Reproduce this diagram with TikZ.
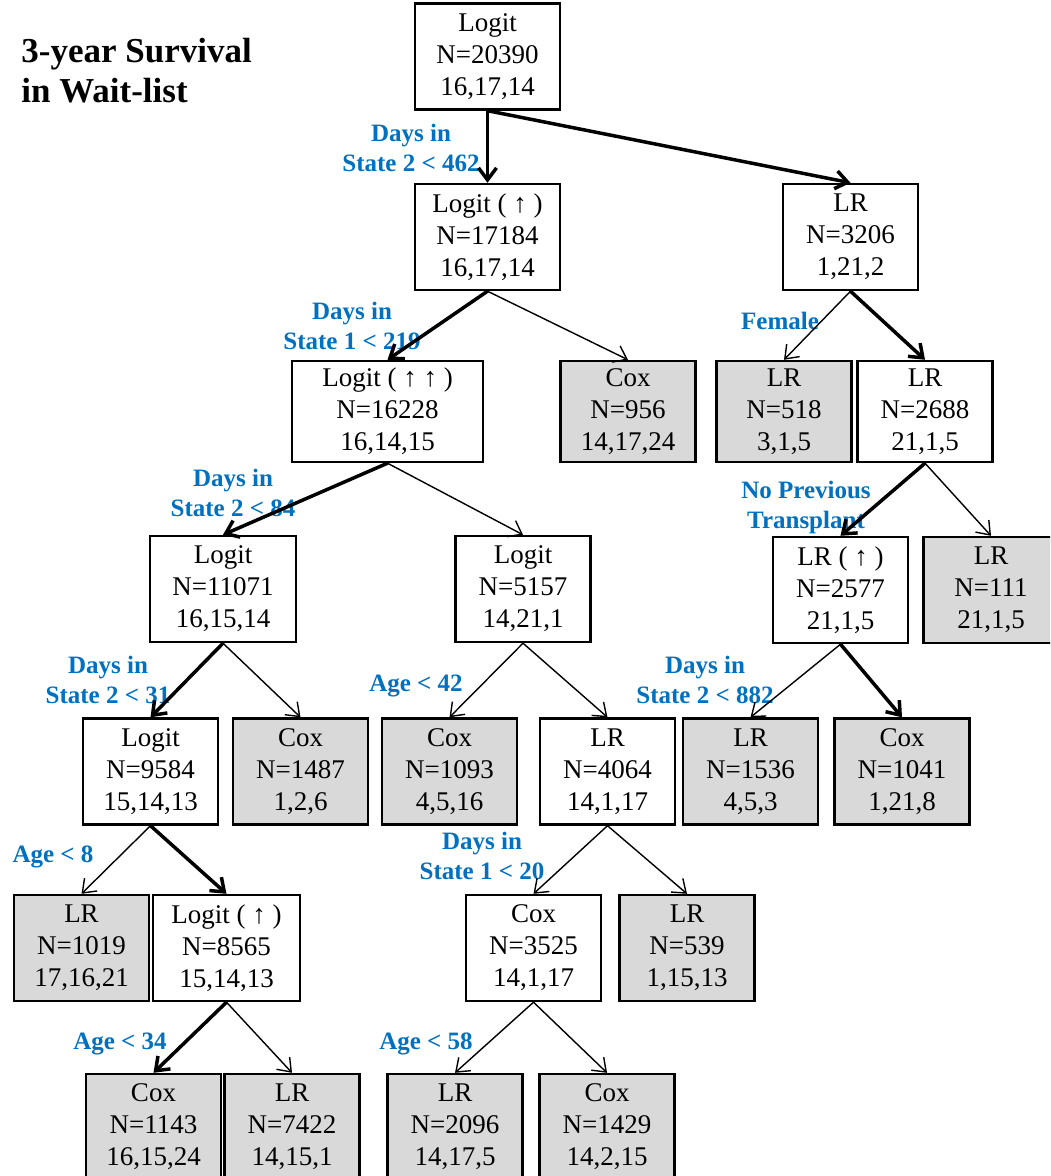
\documentclass[tikz,border=0pt]{standalone}
\usepackage{fontspec}
\setmainfont{Liberation Serif}
\usetikzlibrary{arrows.meta}
\definecolor{condblue}{RGB}{0,112,192}
\definecolor{leafgray}{RGB}{217,217,217}

\begin{document}
\begin{tikzpicture}[line cap=round,>={Straight Barb[length=6pt,width=9pt]},x=0.5pt,y=-0.5pt,
	tbox/.style={draw=black,line width=1.2pt,fill=white,align=center,inner sep=0pt,minimum width=67.5pt,minimum height=53pt,font=\fontsize{13.5}{16}\selectfont},
	leaf/.style={tbox,fill=leafgray},
	cond/.style={text=condblue,align=center,inner sep=0pt,font=\fontsize{12.5}{15}\selectfont\bfseries},
	main/.style={->,line width=1.75pt},
	side/.style={->,line width=0.7pt}]
		\useasboundingbox (0,0) rectangle (1050,1176);
		\clip (0,0) rectangle (1050,1176);
		\node[font=\fontsize{17.5}{20}\selectfont\bfseries,align=left,anchor=north west,inner sep=0pt] (title) at (21,38) {3-year Survival\\in Wait-list};
		% tree nodes
		\node[tbox,minimum width=72.5pt] (root) at (487.5,56.5) {Logit\\N=20390\\16,17,14};
		\node[tbox,minimum width=72.5pt] (n17184) at (487.5,237) {Logit ( ↑ )\\N=17184\\16,17,14};
		\node[tbox] (n3206) at (850.5,237) {LR\\N=3206\\1,21,2};
		\node[tbox,minimum width=95.5pt,minimum height=50.5pt] (n16228) at (387.5,411.5) {Logit ( ↑ ↑ )\\N=16228\\16,14,15};
		\node[leaf,minimum height=50.5pt] (n956) at (628,411.5) {Cox\\N=956\\14,17,24};
		\node[leaf,minimum height=50.5pt] (n518) at (784,411.5) {LR\\N=518\\3,1,5};
		\node[tbox,minimum height=50.5pt] (n2688) at (925,411.5) {LR\\N=2688\\21,1,5};
		\node[tbox,minimum width=73pt] (n11071) at (223,589) {Logit\\N=11071\\16,15,14};
		\node[tbox] (n5157) at (523,589) {Logit\\N=5157\\14,21,1};
		\node[tbox] (n2577) at (840.5,590) {LR ( ↑ )\\N=2577\\21,1,5};
		\node[leaf] (n111) at (991,590) {LR\\N=111\\21,1,5};
		\node[tbox] (n9584) at (150.5,771.5) {Logit\\N=9584\\15,14,13};
		\node[leaf] (n1487) at (300.5,771.5) {Cox\\N=1487\\1,2,6};
		\node[leaf] (n1093) at (449.5,771.5) {Cox\\N=1093\\4,5,16};
		\node[tbox] (n4064) at (607.5,771.5) {LR\\N=4064\\14,1,17};
		\node[leaf] (n1536) at (750.5,771.5) {LR\\N=1536\\4,5,3};
		\node[leaf] (n1041) at (902,771.5) {Cox\\N=1041\\1,21,8};
		\node[leaf] (n1019) at (81.5,948) {LR\\N=1019\\17,16,21};
		\node[tbox,minimum width=73.5pt] (n8565) at (226.5,948) {Logit ( ↑ )\\N=8565\\15,14,13};
		\node[tbox] (n3525) at (533.5,948) {Cox\\N=3525\\14,1,17};
		\node[leaf] (n539) at (687,948) {LR\\N=539\\1,15,13};
		\node[leaf] (n1143) at (153.5,1127) {Cox\\N=1143\\16,15,24};
		\node[leaf] (n7422) at (292,1127) {LR\\N=7422\\14,15,1};
		\node[leaf] (n2096) at (455,1127) {LR\\N=2096\\14,17,5};
		\node[leaf] (n1429) at (607,1127) {Cox\\N=1429\\14,2,15};
		% split conditions
		\node[cond] (c462) at (411,148) {Days in\\State 2 < 462};
		\node[cond] (c219) at (352,326) {Days in\\State 1 < 219};
		\node[cond] (c84) at (233,493) {Days in\\State 2 < 84};
		\node[cond] (cfem) at (780,321) {Female};
		\node[cond] (cprev) at (806,507) {No Previous\\Transplant};
		\node[cond] (c31) at (108,680) {Days in\\State 2 < 31};
		\node[cond] (c42) at (416,686) {Age < 42};
		\node[cond] (c882) at (705,680) {Days in\\State 2 < 882};
		\node[cond] (c8) at (53,857) {Age < 8};
		\node[cond] (c20) at (482,856) {Days in\\State 1 < 20};
		\node[cond] (c34) at (120,1044) {Age < 34};
		\node[cond] (c58) at (426,1044) {Age < 58};
		% branches
		\draw[main] (root.south) -- (n17184.north);
		\draw[main] (root.south) -- (n3206.north);
		\draw[main] (n17184.south) -- (n16228.north);
		\draw[side] (n17184.south) -- (n956.north);
		\draw[side] (n3206.south) -- (n518.north);
		\draw[main] (n3206.south) -- (n2688.north);
		\draw[main] (n16228.south) -- (n11071.north);
		\draw[side] (n16228.south) -- (n5157.north);
		\draw[main] (n2688.south) -- (n2577.north);
		\draw[side] (n2688.south) -- (n111.north);
		\draw[main] (n11071.south) -- (n9584.north);
		\draw[side] (n11071.south) -- (n1487.north);
		\draw[side] (n5157.south) -- (n1093.north);
		\draw[side] (n5157.south) -- (n4064.north);
		\draw[side] (n2577.south) -- (n1536.north);
		\draw[main] (n2577.south) -- (n1041.north);
		\draw[side] (n9584.south) -- (n1019.north);
		\draw[main] (n9584.south) -- (n8565.north);
		\draw[side] (n4064.south) -- (n3525.north);
		\draw[side] (n4064.south) -- (n539.north);
		\draw[main] (n8565.south) -- (n1143.north);
		\draw[side] (n8565.south) -- (n7422.north);
		\draw[side] (n3525.south) -- (n2096.north);
		\draw[side] (n3525.south) -- (n1429.north);
\end{tikzpicture}
\end{document}
